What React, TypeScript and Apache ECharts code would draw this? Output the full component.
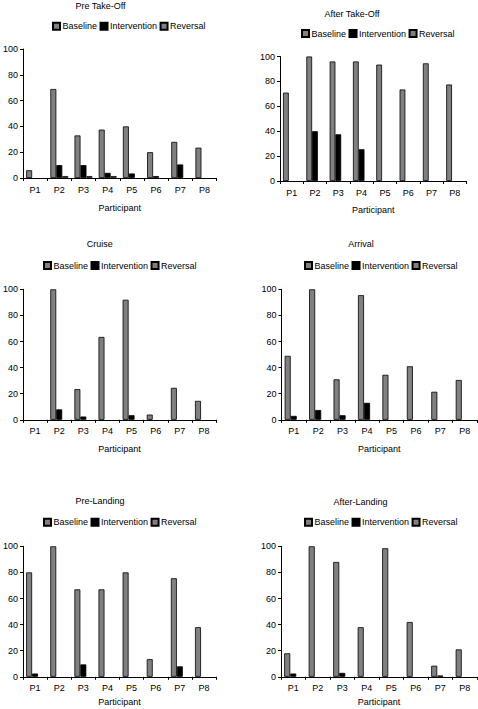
import React, { useEffect, useRef } from "react";
import * as echarts from "echarts";

const participants = ["P1", "P2", "P3", "P4", "P5", "P6", "P7", "P8"];
const yTicks = [0, 20, 40, 60, 80, 100];
const seriesNames = ["Baseline", "Intervention", "Reversal"];
const panelTitles = ["Pre Take-Off", "After Take-Off", "Cruise", "Arrival", "Pre-Landing", "After-Landing"];

const preTakeOffBaseline = [6, 69, 33, 37.5, 40, 20, 28, 23.5];
const preTakeOffIntervention = [0, 10, 10, 4, 3.5, 1.5, 10.5, 0];
const preTakeOffReversal = [0, 1.5, 1.5, 1.5, 0, 0, 0, 0];

const afterTakeOffBaseline = [71, 100, 96, 96, 93.5, 73.5, 94.5, 77.5];
const afterTakeOffIntervention = [0, 40, 37.5, 25.5, 0, 0, 0, 0];
const afterTakeOffReversal = [0, 0, 0, 0, 0, 0, 0, 0];

const cruiseBaseline = [0, 100, 23.5, 63.5, 92, 4, 24.5, 14.5];
const cruiseIntervention = [0, 8, 2.5, 0, 3.5, 0, 0, 0];
const cruiseReversal = [0, 0, 0, 0, 0, 0, 0, 0];

const arrivalBaseline = [49, 100, 31, 95.5, 34.5, 41, 21.5, 30.5];
const arrivalIntervention = [3, 7.5, 3.5, 13, 0, 0, 0, 0];
const arrivalReversal = [0, 0, 0, 0, 0, 0, 0, 0];

const preLandingBaseline = [80, 100, 67, 67, 80, 13.5, 75.5, 38];
const preLandingIntervention = [2.5, 0, 9.5, 0, 0, 0, 8, 0];
const preLandingReversal = [0, 0, 0, 0, 0, 0, 0, 0];

const afterLandingBaseline = [18, 100, 88, 38, 98.5, 42, 8.5, 21];
const afterLandingIntervention = [2.5, 0, 3, 0, 0, 0, 1, 0];
const afterLandingReversal = [0, 0, 0, 0, 0, 0, 0, 0];

const panelData = [
  [preTakeOffBaseline, preTakeOffIntervention, preTakeOffReversal],
  [afterTakeOffBaseline, afterTakeOffIntervention, afterTakeOffReversal],
  [cruiseBaseline, cruiseIntervention, cruiseReversal],
  [arrivalBaseline, arrivalIntervention, arrivalReversal],
  [preLandingBaseline, preLandingIntervention, preLandingReversal],
  [afterLandingBaseline, afterLandingIntervention, afterLandingReversal],
];

// layout: grid box, title center, legend left/center-y, name gap
const layouts = [
  { left: 21, top: 49, width: 195.5, height: 129, tx: 100.5, ty: 6, lx: 52, ly: 26.7, gap: 25 },
  { left: 280, top: 56.5, width: 186.5, height: 124.5, tx: 352, ty: 14, lx: 301, ly: 34, gap: 24 },
  { left: 20.6, top: 289.3, width: 195.4, height: 130.5, tx: 99.8, ty: 244, lx: 43, ly: 266, gap: 25 },
  { left: 281.5, top: 289.3, width: 195.5, height: 130.5, tx: 361, ty: 244, lx: 304, ly: 266, gap: 25 },
  { left: 20.6, top: 546.3, width: 195.4, height: 130.5, tx: 100, ty: 501, lx: 43, ly: 522.7, gap: 21 },
  { left: 281, top: 546.3, width: 196, height: 130.5, tx: 360.5, ty: 501.7, lx: 304, ly: 522.7, gap: 21 },
];

const FONT = "Liberation Sans, Arial, sans-serif";
const colors = ["#808080", "#000000", "#808080"];

export default function App() {
  const ref = useRef<HTMLDivElement>(null);
  useEffect(() => {
    if (!ref.current) return;
    const chart = echarts.init(ref.current, undefined, { renderer: "svg" });
    const grids: any[] = [];
    const xAxes: any[] = [];
    const yAxes: any[] = [];
    const series: any[] = [];
    const legends: any[] = [];
    const graphics: any[] = [];
    layouts.forEach((l, i) => {
      grids.push({ left: l.left, top: l.top, width: l.width, height: l.height, containLabel: false });
      xAxes.push({
        type: "category",
        gridIndex: i,
        data: participants,
        name: "Participant",
        nameLocation: "middle",
        nameGap: l.gap,
        nameTextStyle: { fontFamily: FONT, fontSize: 9, color: "#000" },
        axisLine: { show: true, lineStyle: { color: "#000", width: 1 } },
        axisTick: { show: true, length: 3, lineStyle: { color: "#000" } },
        axisLabel: { fontFamily: FONT, fontSize: 9, color: "#000", margin: 7, interval: 0 },
        splitLine: { show: false },
      });
      yAxes.push({
        type: "value",
        gridIndex: i,
        min: yTicks[0],
        max: yTicks[yTicks.length - 1],
        interval: yTicks[1] - yTicks[0],
        axisLine: { show: true, lineStyle: { color: "#000", width: 1 } },
        axisTick: { show: true, length: 3, lineStyle: { color: "#000" } },
        axisLabel: { fontFamily: FONT, fontSize: 9, color: "#000", margin: 5 },
        splitLine: { show: false },
      });
      panelData[i].forEach((vals, s) => {
        series.push({
          type: "bar",
          name: seriesNames[s],
          xAxisIndex: i,
          yAxisIndex: i,
          // zero values draw no bar (as in the original)
          data: vals.map((v) => (v === 0 ? "-" : v)),
          barGap: "0%",
          barCategoryGap: "26%",
          itemStyle: { color: colors[s], borderColor: "#000", borderWidth: 0.8 },
        });
      });
      legends.push({
        data: seriesNames,
        left: l.lx,
        top: l.ly - 5,
        padding: 0,
        itemWidth: 7,
        itemHeight: 7,
        itemGap: 2.5,
        icon: "rect",
        selectedMode: false,
        textStyle: { fontFamily: FONT, fontSize: 9, color: "#000", padding: [0, 0, 0, -2.5] },
      });
      graphics.push({
        type: "text",
        x: l.tx,
        y: l.ty,
        style: {
          text: panelTitles[i],
          fontFamily: FONT,
          fontSize: 9,
          fill: "#000",
          textAlign: "center",
          textVerticalAlign: "middle",
        },
      });
    });
    chart.setOption({
      animation: false,
      backgroundColor: "#fff",
      grid: grids,
      xAxis: xAxes,
      yAxis: yAxes,
      series,
      legend: legends,
      graphic: graphics,
    });
    return () => chart.dispose();
  }, []);
  return (
    <div
      ref={ref}
      style={{ position: "fixed", left: 0, top: 0, width: 478, height: 709 }}
    />
  );
}
